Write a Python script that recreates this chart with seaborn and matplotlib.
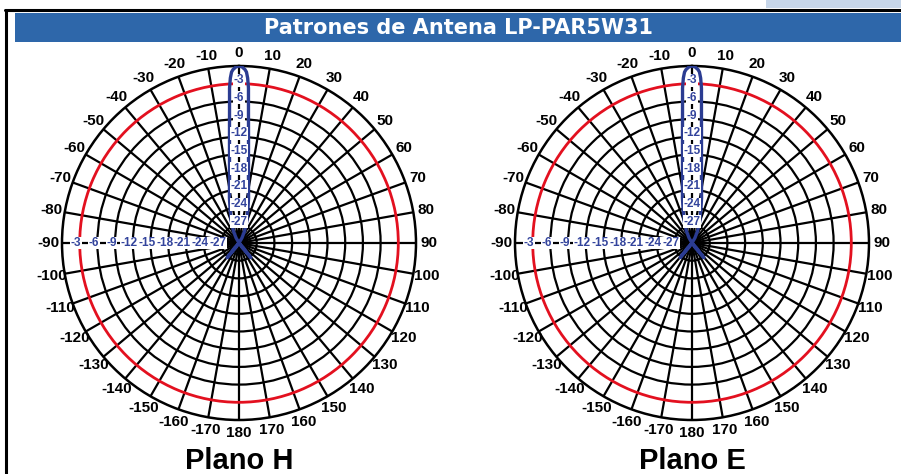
import numpy as np
import matplotlib
matplotlib.use("Agg")
import matplotlib.pyplot as plt
import seaborn as sns
import pandas as pd
from matplotlib.patches import Rectangle
from matplotlib.lines import Line2D

sns.set_style("white")
plt.rcParams['font.family'] = ['Liberation Sans', 'DejaVu Sans']

# ---------------- data ----------------
title = "Patrones de Antena LP-PAR5W31"
plane_titles = ["Plano H", "Plano E"]

angles_deg = [-180, -170, -160, -150, -145, -141, -137, -130, -120, -90, -60, -40,
              -30, -25, -20, -15, -12, -10, -8, -7, -6, -5, -4, -3.5, -3, -2.5, -2, -1,
              0, 1, 2, 2.5, 3, 3.5, 4, 5, 6, 7, 8, 10, 12, 15, 20, 25, 30,
              40, 60, 90, 120, 130, 137, 141, 145, 150, 160, 170, 180]

gain_h_db = [-30, -30, -30, -30, -29, -26.8, -29, -30, -30, -30, -30, -30,
             -29, -27.8, -26.2, -24.2, -22.2, -20.7, -18.5, -16.8, -14.6, -11.5, -7.0, -3.7, -2.0, -1.0, -0.6, -0.15,
             0, -0.15, -0.6, -1.0, -2.0, -3.7, -7.0, -11.5, -14.6, -16.8, -18.5, -20.7, -22.2, -24.2, -26.2, -27.8, -29,
             -30, -30, -30, -30, -30, -29, -26.8, -29, -30, -30, -30, -30]

gain_e_db = [-30, -30, -30, -30, -29, -26.8, -29, -30, -30, -30, -30, -30,
             -29, -27.8, -26.2, -24.2, -22.2, -20.7, -18.5, -16.8, -14.6, -11.5, -7.0, -3.7, -2.0, -1.0, -0.6, -0.15,
             0, -0.15, -0.6, -1.0, -2.0, -3.7, -7.0, -11.5, -14.6, -16.8, -18.5, -20.7, -22.2, -24.2, -26.2, -27.8, -29,
             -30, -30, -30, -30, -30, -29, -26.8, -29, -30, -30, -30, -30]

ring_db = [-27, -24, -21, -18, -15, -12, -9, -6, -3]
ring_labels = ["-27", "-24", "-21", "-18", "-15", "-12", "-9", "-6", "-3"]
highlight_ring_db = -3
spoke_deg = list(range(0, 360, 10))
spoke_labels = [str(a) if a <= 180 else str(a - 360) for a in spoke_deg]

# ---------------- style ----------------
W, H = 901, 474
BAR_BLUE = "#2E67AA"
LIGHT_BLUE = "#C7D6E9"
PAT_BLUE = "#2B3C92"
LBL_BLUE = "#33449C"
RED = "#E3101F"

fig = plt.figure(figsize=(W / 100, H / 100), dpi=100)
fig.patch.set_facecolor("white")

def px_rect(x, y, w, h):
    return (x / W, 1 - (y + h) / H, w / W, h / H)

# top-right light block
x0, y0, w0, h0 = px_rect(766, 0, 135, 8)
fig.add_artist(Rectangle((x0, y0), w0, h0, transform=fig.transFigure,
                         facecolor=LIGHT_BLUE, edgecolor="none"))
# frame lines
fig.add_artist(Line2D([5 / W, 1], [1 - 9.5 / H, 1 - 9.5 / H], transform=fig.transFigure,
                      color="black", lw=2.2))
fig.add_artist(Line2D([6 / W, 6 / W], [0, 1 - 9.5 / H], transform=fig.transFigure,
                      color="black", lw=2.2))
# title bar
x0, y0, w0, h0 = px_rect(15, 13, 886, 29)
fig.add_artist(Rectangle((x0, y0), w0, h0, transform=fig.transFigure,
                         facecolor=BAR_BLUE, edgecolor="none"))
fig.text(458 / W, 1 - 27.5 / H, title, color="white", fontsize=15,
         fontweight="bold", ha="center", va="center", family=["DejaVu Sans"])

R = 177
centers = [(239, 243), (692, 243)]
gains = [gain_h_db, gain_e_db]

for (cx, cy), g, ptitle in zip(centers, gains, plane_titles):
    ax = fig.add_axes(px_rect(cx - R, cy - R, 2 * R, 2 * R), projection="polar")
    ax.set_theta_zero_location("N")
    ax.set_theta_direction(-1)
    ax.set_ylim(-30, 0)
    ax.set_facecolor("white")

    ax.set_thetagrids(spoke_deg, spoke_labels, fontsize=11, fontweight="bold")
    ax.set_rgrids(ring_db, labels=[""] * len(ring_db))
    ax.tick_params(axis="x", pad=-1, colors="black")
    ax.grid(True, color="black", lw=1.6)
    for val, gl in zip(ring_db, ax.yaxis.get_gridlines()):
        if val == highlight_ring_db:
            gl.set_color(RED)
            gl.set_linewidth(2.0)
    ax.spines["polar"].set_color("black")
    ax.spines["polar"].set_linewidth(1.8)

    df = pd.DataFrame({"theta": np.deg2rad(angles_deg), "gain": g})
    sns.lineplot(data=df, x="theta", y="gain", ax=ax, sort=False,
                 color=PAT_BLUE, lw=2.4, zorder=5, estimator=None)
    ax.set_xlabel("")
    ax.set_ylabel("")

    for val, lab in zip(ring_db, ring_labels):
        for th in (0, -90):
            ax.text(np.deg2rad(th), val + 0.6, lab, color=LBL_BLUE, fontsize=8.5,
                    fontweight="bold", ha="center", va="center", zorder=6,
                    bbox=dict(facecolor="white", edgecolor="none", pad=0.3))

    fig.text(cx / W, 1 - 461 / H, ptitle, fontsize=21, fontweight="bold",
             ha="center", va="center", color="black")

fig.savefig("out.png", dpi=100)
